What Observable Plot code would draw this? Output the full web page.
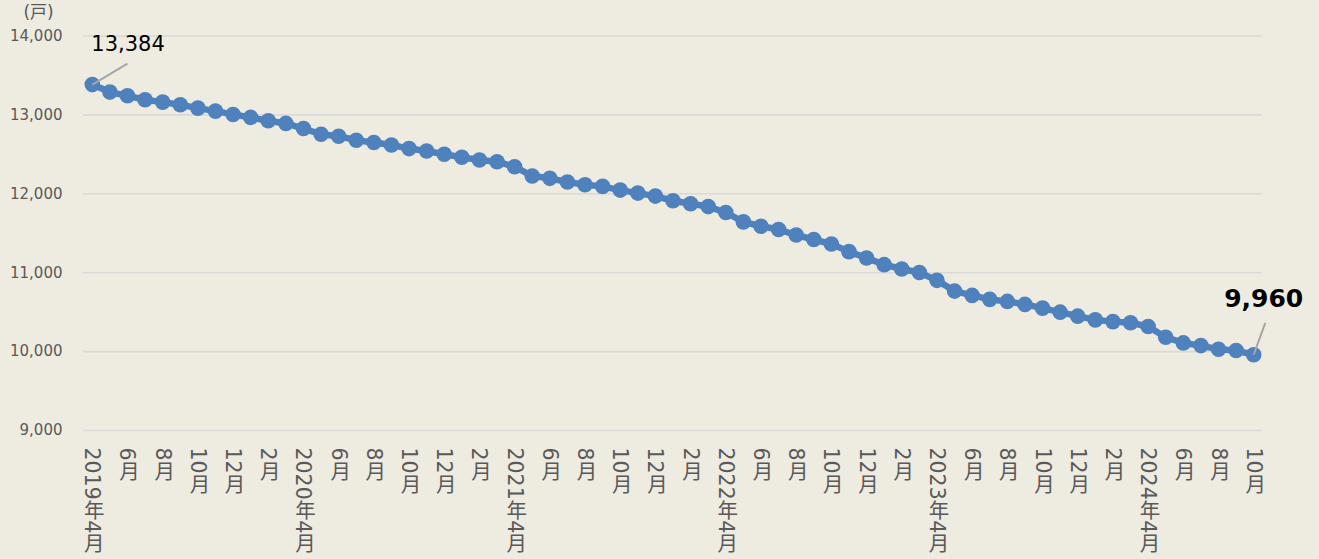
<!DOCTYPE html>
<html>
<head>
<meta charset="utf-8">
<script src="https://cdn.jsdelivr.net/npm/d3@7"></script>
<script src="https://cdn.jsdelivr.net/npm/@observablehq/plot@0.6"></script>
<style>
  html, body { margin: 0; padding: 0; background: #EEEBE1; }
  #chart { width: 1319px; height: 559px; }
</style>
</head>
<body>
<div id="chart"></div>
<script>
const months = [
  "2019年4月","2019年5月","2019年6月","2019年7月","2019年8月","2019年9月","2019年10月","2019年11月","2019年12月",
  "2020年1月","2020年2月","2020年3月","2020年4月","2020年5月","2020年6月","2020年7月","2020年8月","2020年9月","2020年10月","2020年11月","2020年12月",
  "2021年1月","2021年2月","2021年3月","2021年4月","2021年5月","2021年6月","2021年7月","2021年8月","2021年9月","2021年10月","2021年11月","2021年12月",
  "2022年1月","2022年2月","2022年3月","2022年4月","2022年5月","2022年6月","2022年7月","2022年8月","2022年9月","2022年10月","2022年11月","2022年12月",
  "2023年1月","2023年2月","2023年3月","2023年4月","2023年5月","2023年6月","2023年7月","2023年8月","2023年9月","2023年10月","2023年11月","2023年12月",
  "2024年1月","2024年2月","2024年3月","2024年4月","2024年5月","2024年6月","2024年7月","2024年8月","2024年9月","2024年10月"
];
const values = [
  13384,13289,13242,13192,13162,13128,13086,13048,13006,12968,12925,12892,
  12827,12755,12730,12679,12650,12619,12573,12543,12501,12463,12428,12407,
  12343,12225,12196,12149,12114,12094,12047,12009,11971,11911,11873,11838,
  11763,11644,11589,11547,11478,11420,11364,11267,11186,11102,11047,11002,
  10903,10767,10712,10662,10636,10598,10551,10500,10449,10402,10380,
  10365,10318,10182,10110,10076,10029,10013,9960
];
const tickLabels = [
  "2019年4月","6月","8月","10月","12月","2月",
  "2020年4月","6月","8月","10月","12月","2月",
  "2021年4月","6月","8月","10月","12月","2月",
  "2022年4月","6月","8月","10月","12月","2月",
  "2023年4月","6月","8月","10月","12月","2月",
  "2024年4月","6月","8月","10月"
];
const yTicks = [9000, 10000, 11000, 12000, 13000, 14000];
const unitLabel = "(戸)";

const data = months.map((m, i) => ({i, m, v: values[i]}));
const first = data[0];
const last = data[data.length - 1];
const fmt = d3.format(",");
const blue = "#4F81BD";
const font = "'DejaVu Sans', 'Noto Sans CJK JP', sans-serif";

const chart = Plot.plot({
  width: 1319,
  height: 559,
  marginLeft: 83,
  marginRight: 57,
  marginTop: 35.5,
  marginBottom: 129,
  style: {background: "transparent", fontFamily: font, color: "#595959"},
  x: {type: "linear", domain: [-0.5, months.length - 0.5]},
  y: {domain: [9000, 14000]},
  marks: [
    Plot.gridY(yTicks, {stroke: "#d9d9d9", strokeOpacity: 1, strokeWidth: 1.6}),
    Plot.axisY(yTicks, {tickFormat: fmt, tickSize: 0, tickPadding: 21, fontSize: 15, label: null}),
    Plot.axisX(d3.range(0, months.length, 2), {
      tickFormat: (d) => tickLabels[d / 2],
      tickSize: 0, tickPadding: 17, fontSize: 20.5, label: null
    }),
    Plot.text([unitLabel], {frameAnchor: "top-left", text: d => d, textAnchor: "middle", lineAnchor: "middle", dx: -45, dy: -23, fontSize: 17, fill: "#595959"}),
    Plot.line(data, {x: "i", y: "v", stroke: blue, strokeWidth: 6.5}),
    Plot.dot(data, {x: "i", y: "v", r: 7.8, fill: blue}),
    Plot.link([first], {x1: "i", y1: "v", x2: d => d.i + 2, y2: d => d.v + 267, stroke: "#a6a6a6", strokeWidth: 2}),
    Plot.link([last], {x1: "i", y1: "v", x2: d => d.i + 0.66, y2: d => d.v + 406, stroke: "#a6a6a6", strokeWidth: 2}),
    Plot.text([first], {x: "i", y: "v", text: d => fmt(d.v), textAnchor: "start", dx: -1, dy: -40, fontSize: 21, fill: "#000"}),
    Plot.text([last], {x: "i", y: "v", text: d => fmt(d.v), textAnchor: "middle", dx: 10, dy: -56, fontSize: 25, fontWeight: "bold", fill: "#000"})
  ]
});
// vertical Japanese writing for x tick labels (CJK upright, digits sideways)
d3.select(chart).selectAll('g[aria-label="x-axis tick label"] text')
  .attr("dy", null)
  .attr("y", null)
  .attr("text-anchor", "start")
  .style("writing-mode", "vertical-rl")
  .style("text-orientation", "mixed");
document.getElementById("chart").appendChild(chart);
</script>
</body>
</html>
